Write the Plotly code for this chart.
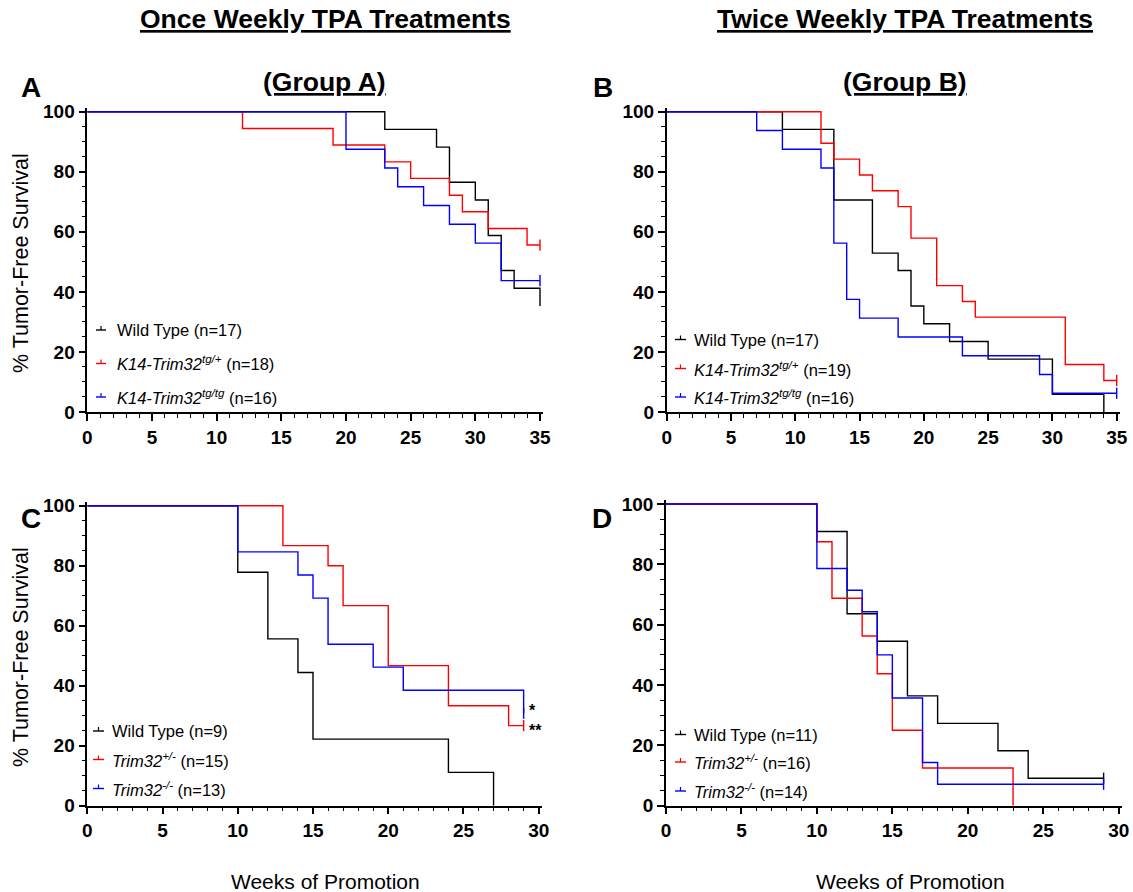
import plotly.graph_objects as go

# ---------------- data (weeks, % tumor-free survival) ----------------
A_wt_t = [0, 23, 27, 28, 30, 31, 32, 33, 35]
A_wt_s = [100, 94.1, 88.2, 76.5, 70.6, 58.8, 47.1, 41.2, 35.3]
A_tg1_t = [0, 12, 19, 23, 25, 28, 29, 31, 34, 35]
A_tg1_s = [100, 94.4, 88.9, 83.3, 77.8, 72.2, 66.7, 61.1, 55.6, 55.6]
A_tgtg_t = [0, 20, 23, 24, 26, 28, 30, 32, 35]
A_tgtg_s = [100, 87.5, 81.25, 75, 68.75, 62.5, 56.25, 43.75, 43.75]

B_wt_t = [0, 9, 13, 16, 18, 19, 20, 22, 25, 30, 34]
B_wt_s = [100, 94.1, 70.6, 52.9, 47.1, 35.3, 29.4, 23.5, 17.6, 5.9, 0]
B_tg1_t = [0, 12, 13, 15, 16, 18, 19, 21, 23, 24, 31, 34, 35]
B_tg1_s = [100, 89.5, 84.2, 78.9, 73.7, 68.4, 57.9, 42.1, 36.8, 31.6, 15.8, 10.5, 10.5]
B_tgtg_t = [0, 7, 9, 12, 13, 14, 15, 18, 23, 29, 30, 35]
B_tgtg_s = [100, 93.75, 87.5, 81.25, 56.25, 37.5, 31.25, 25, 18.75, 12.5, 6.25, 6.25]

C_wt_t = [0, 10, 12, 14, 15, 24, 27]
C_wt_s = [100, 77.8, 55.6, 44.4, 22.2, 11.1, 0]
C_het_t = [0, 13, 16, 17, 20, 24, 28, 29]
C_het_s = [100, 86.7, 80, 66.7, 46.7, 33.3, 26.7, 26.7]
C_ko_t = [0, 10, 14, 15, 16, 19, 21, 29]
C_ko_s = [100, 84.6, 76.9, 69.2, 53.8, 46.2, 38.5, 30.8]

D_wt_t = [0, 10, 12, 14, 16, 18, 22, 24, 29]
D_wt_s = [100, 90.9, 63.6, 54.5, 36.4, 27.3, 18.2, 9.1, 9.1]
D_het_t = [0, 10, 11, 13, 14, 15, 17, 23]
D_het_s = [100, 87.5, 68.75, 56.25, 43.75, 25, 12.5, 0]
D_ko_t = [0, 10, 12, 13, 14, 15, 17, 18, 29]
D_ko_s = [100, 78.6, 71.4, 64.3, 50, 35.7, 14.3, 7.1, 7.1]

A_labels = ["Wild Type (n=17)", "<i>K14-Trim32</i><sup><i>tg/+</i></sup> (n=18)",
            "<i>K14-Trim32</i><sup><i>tg/tg</i></sup> (n=16)"]
B_labels = ["Wild Type (n=17)", "<i>K14-Trim32</i><sup><i>tg/+</i></sup> (n=19)",
            "<i>K14-Trim32</i><sup><i>tg/tg</i></sup> (n=16)"]
C_labels = ["Wild Type (n=9)", "<i>Trim32</i><sup><i>+/-</i></sup> (n=15)",
            "<i>Trim32</i><sup><i>-/-</i></sup> (n=13)"]
D_labels = ["Wild Type (n=11)", "<i>Trim32</i><sup><i>+/-</i></sup> (n=16)",
            "<i>Trim32</i><sup><i>-/-</i></sup> (n=14)"]

x_ticks_AB = [0, 5, 10, 15, 20, 25, 30, 35]
x_ticks_CD = [0, 5, 10, 15, 20, 25, 30]
y_ticks = [0, 20, 40, 60, 80, 100]

COLORS = ["#000000", "#ff0000", "#0000ff"]
W, H = 1133, 892
FONT = "Arial, Liberation Sans, sans-serif"

fig = go.Figure()

def px(x):
    return x / W

def py(y):
    return 1 - y / H

# panel geometry in pixels: (left, right, top(y=100), bottom(y=0), xmax)
panels = {
    "A": dict(ax="", l=87.3, r=540.0, t=111.7, b=412.0, xmax=35, ticks=x_ticks_AB,
              data=[(A_wt_t, A_wt_s), (A_tg1_t, A_tg1_s), (A_tgtg_t, A_tgtg_s)],
              labels=A_labels, censor=[1, 2],
              leg=dict(x0=96, x1=106, tx=115, ys=[330, 363.5, 397])),
    "B": dict(ax="2", l=666.7, r=1116.7, t=111.7, b=412.0, xmax=35, ticks=x_ticks_AB,
              data=[(B_wt_t, B_wt_s), (B_tg1_t, B_tg1_s), (B_tgtg_t, B_tgtg_s)],
              labels=B_labels, censor=[1, 2],
              leg=dict(x0=675, x1=686, tx=692, ys=[339.5, 368.5, 397])),
    "C": dict(ax="3", l=87.3, r=538.7, t=505.7, b=805.7, xmax=30, ticks=x_ticks_CD,
              data=[(C_wt_t, C_wt_s), (C_het_t, C_het_s), (C_ko_t, C_ko_s)],
              labels=C_labels, censor=[1, 2],
              leg=dict(x0=93, x1=104, tx=110, ys=[731, 759.5, 788.5])),
    "D": dict(ax="4", l=666.0, r=1118.7, t=504.0, b=805.7, xmax=30, ticks=x_ticks_CD,
              data=[(D_wt_t, D_wt_s), (D_het_t, D_het_s), (D_ko_t, D_ko_s)],
              labels=D_labels, censor=[0, 2],
              leg=dict(x0=675, x1=686, tx=692, ys=[734.5, 762, 791])),
}

YMAX = 101.2
annotations = []
shapes = []

for key, p in panels.items():
    ax = p["ax"]
    xr_max = p["xmax"] + 0.25
    pw = p["r"] - p["l"]
    right_px = p["l"] + pw * xr_max / p["xmax"]
    ph = p["b"] - p["t"]
    top_px = p["b"] - ph * YMAX / 100
    xa = "x" + ax
    ya = "y" + ax
    for i, (t, s) in enumerate(p["data"]):
        fig.add_trace(go.Scatter(x=t, y=s, mode="lines", line_shape="hv",
                                 line=dict(color=COLORS[i], width=1.4),
                                 xaxis=xa, yaxis=ya, showlegend=False,
                                 hoverinfo="skip"))
    for i in p["censor"]:
        t, s = p["data"][i]
        fig.add_trace(go.Scatter(x=[t[-1]], y=[s[-1]], mode="markers",
                                 marker=dict(symbol="line-ns", size=8,
                                             line=dict(color=COLORS[i], width=1.4)),
                                 xaxis=xa, yaxis=ya, showlegend=False,
                                 hoverinfo="skip", cliponaxis=False))
    xkey = "xaxis" + ax
    ykey = "yaxis" + ax
    fig.update_layout(**{
        xkey: dict(domain=[px(p["l"]), px(right_px)], range=[0, xr_max],
                   anchor=ya, tickmode="array", tickvals=p["ticks"],
                   ticks="outside", ticklen=7, tickwidth=1.5, tickcolor="black",
                   showline=True, linecolor="black", linewidth=1.5,
                   showgrid=False, zeroline=False, automargin=False,
                   minor=dict(dtick=1, tick0=0, ticks="outside", ticklen=4,
                              tickwidth=1.2, tickcolor="black", showgrid=False),
                   tickfont=dict(family=FONT, size=19, color="black", weight="bold")),
        ykey: dict(domain=[py(p["b"]), py(top_px)], range=[0, YMAX],
                   anchor=xa, tickmode="array", tickvals=y_ticks,
                   ticks="outside", ticklen=7, tickwidth=1.5, tickcolor="black",
                   showline=True, linecolor="black", linewidth=1.5,
                   showgrid=False, zeroline=False, automargin=False,
                   minor=dict(dtick=5, tick0=0, ticks="outside", ticklen=4,
                              tickwidth=1.2, tickcolor="black", showgrid=False),
                   tickfont=dict(family=FONT, size=19, color="black", weight="bold")),
    })
    # legend glyphs and labels
    lg = p["leg"]
    for i, yy in enumerate(lg["ys"]):
        shapes.append(dict(type="line", xref="paper", yref="paper",
                           x0=px(lg["x0"]), x1=px(lg["x1"]), y0=py(yy), y1=py(yy),
                           line=dict(color=COLORS[i], width=1.4)))
        xm = (lg["x0"] + lg["x1"]) / 2
        shapes.append(dict(type="line", xref="paper", yref="paper",
                           x0=px(xm), x1=px(xm), y0=py(yy), y1=py(yy - 4),
                           line=dict(color=COLORS[i], width=1.2)))
        annotations.append(dict(text=p["labels"][i], xref="paper", yref="paper",
                                x=px(lg["tx"]), y=py(yy), xanchor="left",
                                yanchor="middle", showarrow=False,
                                font=dict(family=FONT, size=16.5, color="black")))

# titles and labels
def txt(text, x, y, size, bold=False, angle=0, anchor="center"):
    annotations.append(dict(text=text, xref="paper", yref="paper", x=px(x), y=py(y),
                            xanchor=anchor, yanchor="middle", showarrow=False,
                            textangle=angle,
                            font=dict(family=FONT, size=size, color="black",
                                      weight="bold" if bold else "normal")))

txt("<u>Once Weekly TPA Treatments</u>", 325, 19, 26.5, bold=True)
txt("<u>Twice Weekly TPA Treatments</u>", 905, 19, 26.5, bold=True)
txt("<u>(Group A)</u>", 324, 82, 26.5, bold=True)
txt("<u>(Group B)</u>", 905, 82, 26.5, bold=True)
txt("A", 31, 88, 28, bold=True)
txt("B", 603, 88, 28, bold=True)
txt("C", 31, 518, 28, bold=True)
txt("D", 602, 518, 28, bold=True)
txt("% Tumor-Free Survival", 21, 263, 21.5, angle=-90)
txt("% Tumor-Free Survival", 21, 657, 21.5, angle=-90)
txt("Weeks of Promotion", 325, 881, 21)
txt("Weeks of Promotion", 910, 881, 21)

# significance marks in panel C
annotations.append(dict(text="<b>*</b>", xref="x3", yref="y3", x=29.2, y=31.6,
                        xanchor="left", yanchor="middle", showarrow=False,
                        font=dict(family=FONT, size=16, color="black")))
annotations.append(dict(text="<b>**</b>", xref="x3", yref="y3", x=29.2, y=25.2,
                        xanchor="left", yanchor="middle", showarrow=False,
                        font=dict(family=FONT, size=16, color="black")))

fig.update_layout(width=W, height=H, margin=dict(l=0, r=0, t=0, b=0),
                  paper_bgcolor="white", plot_bgcolor="white",
                  annotations=annotations, shapes=shapes,
                  font=dict(family=FONT, color="black"))

fig.write_html("out.html")
